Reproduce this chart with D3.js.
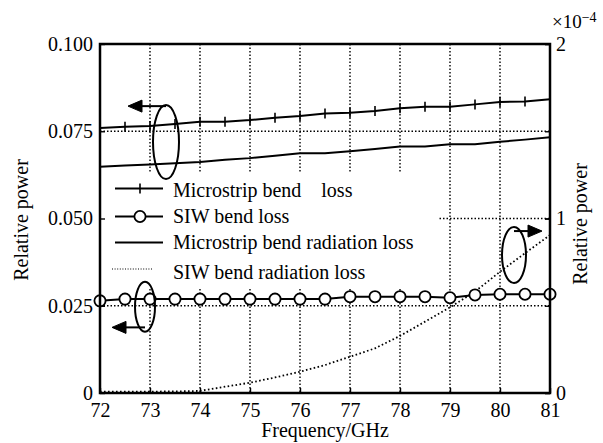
<!DOCTYPE html>
<html>
<head>
<meta charset="utf-8">
<script src="https://cdn.jsdelivr.net/npm/d3@7"></script>
<style>
  body { margin: 0; background: #fff; }
  text { font-family: "Liberation Serif", "Times New Roman", serif; fill: #000; }
</style>
</head>
<body>
<script>
// frequency points (GHz)
var freq = [72, 72.5, 73, 73.5, 74, 74.5, 75, 75.5, 76, 76.5, 77, 77.5, 78, 78.5, 79, 79.5, 80, 80.5, 81];

// left axis series
var microstripLoss = [0.0759, 0.0763, 0.0765, 0.0771, 0.0777, 0.0777, 0.0782, 0.0789, 0.0794, 0.0801,
                      0.0803, 0.0808, 0.0816, 0.0820, 0.0820, 0.0827, 0.0834, 0.0835, 0.0842];
var siwLoss = [0.0264, 0.0269, 0.0269, 0.0269, 0.0269, 0.0269, 0.0269, 0.0269, 0.0269, 0.0269,
               0.0276, 0.0276, 0.0276, 0.0276, 0.0273, 0.0281, 0.0283, 0.0283, 0.0283];
var microstripRad = [0.0648, 0.0652, 0.0655, 0.0658, 0.0662, 0.0668, 0.0673, 0.0680, 0.0687, 0.0687,
                     0.0693, 0.0699, 0.0706, 0.0706, 0.0713, 0.0713, 0.0720, 0.0726, 0.0733];
// right axis series (x 1e-4)
var siwRad = [0.008, 0.008, 0.008, 0.009, 0.012, 0.036, 0.059, 0.089, 0.122, 0.160,
              0.208, 0.256, 0.327, 0.409, 0.491, 0.581, 0.695, 0.801, 0.905];

var xTicks = [72, 73, 74, 75, 76, 77, 78, 79, 80, 81];
var yLeftTicks = [0, 0.025, 0.05, 0.075, 0.1];
var yRightTicks = [0, 1, 2];

var legendLabels = ["Microstrip bend    loss", "SIW bend loss", "Microstrip bend radiation loss", "SIW bend radiation loss"];

// annotation ellipses: [freq, value, axis, arrow value, arrow tip freq]
var ovalLeftTop = [73.32, 0.0719, "L", 0.0822, 72.56];
var ovalLeftBottom = [72.9, 0.0247, "L", 0.0188, 72.24];
var ovalRight = [80.28, 0.791, "R", 0.928, 80.84];

var dim = { width: 603, height: 443, left: 100, right: 550, top: 44, bottom: 393 };

var x = d3.scaleLinear().domain([72, 81]).range([dim.left, dim.right]);
var yL = d3.scaleLinear().domain([0, 0.1]).range([dim.bottom, dim.top]);
var yR = d3.scaleLinear().domain([0, 2]).range([dim.bottom, dim.top]);

var svg = d3.select("body").append("svg")
    .attr("width", dim.width)
    .attr("height", dim.height);

// grid
var grid = svg.append("g").attr("class", "grid")
    .attr("stroke", "#000").attr("stroke-width", 1.4).attr("stroke-dasharray", "1.5,2");
grid.selectAll("line.v").data(xTicks.slice(1, -1)).enter().append("line")
    .attr("x1", function(d) { return x(d); }).attr("x2", function(d) { return x(d); })
    .attr("y1", dim.top).attr("y2", dim.bottom);
grid.selectAll("line.h").data(yLeftTicks.slice(1, -1)).enter().append("line")
    .attr("x1", dim.left).attr("x2", dim.right)
    .attr("y1", function(d) { return yL(d); }).attr("y2", function(d) { return yL(d); });

// legend background hides the grid
var legend = svg.append("g").attr("class", "legend");
legend.append("rect")
    .attr("x", dim.left + 1).attr("y", 173)
    .attr("width", 337).attr("height", 115)
    .attr("fill", "#fff");

// lines
var lineL = function(vals) {
    return d3.line().x(function(d, i) { return x(freq[i]); }).y(function(d) { return yL(d); })(vals);
};
var lineR = function(vals) {
    return d3.line().x(function(d, i) { return x(freq[i]); }).y(function(d) { return yR(d); })(vals);
};

var plot = svg.append("g").attr("class", "plot").attr("fill", "none").attr("stroke", "#000");

plot.append("path").attr("d", lineL(microstripLoss)).attr("stroke-width", 2);
plot.append("path").attr("d", lineL(microstripRad)).attr("stroke-width", 2);
plot.append("path").attr("d", lineR(siwRad)).attr("stroke-width", 1.8).attr("stroke-dasharray", "1.6,2.4");
plot.append("path").attr("d", lineL(siwLoss)).attr("stroke-width", 2);

plot.selectAll("line.plus").data(microstripLoss).enter().append("line")
    .attr("x1", function(d, i) { return x(freq[i]); }).attr("x2", function(d, i) { return x(freq[i]); })
    .attr("y1", function(d) { return yL(d) - 5; }).attr("y2", function(d) { return yL(d) + 5; })
    .attr("stroke-width", 1.6);

plot.selectAll("circle").data(siwLoss).enter().append("circle")
    .attr("cx", function(d, i) { return x(freq[i]); })
    .attr("cy", function(d) { return yL(d); })
    .attr("r", 5.6)
    .attr("fill", "#fff").attr("stroke-width", 1.8);

// legend items
var rows = [188.5, 216.5, 242.5, 269];
var textRows = [190, 216, 242, 272];
legendLabels.forEach(function(label, i) {
    var g = legend.append("g").attr("stroke", "#000").attr("fill", "none");
    if (i < 3) {
        g.append("line").attr("x1", 115).attr("x2", 163).attr("y1", rows[i]).attr("y2", rows[i]).attr("stroke-width", 2);
    } else {
        g.append("line").attr("x1", 112).attr("x2", 153).attr("y1", rows[i]).attr("y2", rows[i])
            .attr("stroke-width", 1.2).attr("stroke-dasharray", "1,1.6");
    }
    if (i === 0) {
        g.append("line").attr("x1", 140).attr("x2", 140).attr("y1", rows[i] - 5).attr("y2", rows[i] + 5).attr("stroke-width", 1.6);
    }
    if (i === 1) {
        g.append("circle").attr("cx", 140).attr("cy", rows[i]).attr("r", 5.6).attr("fill", "#fff").attr("stroke-width", 1.8);
    }
    legend.append("text")
        .attr("x", 173).attr("y", textRows[i] + 6.5)
        .style("font-size", "20px").style("white-space", "pre")
        .text(label);
});

// axes
var fmtL = function(d) { return d === 0 ? "0" : d3.format(".3f")(d); };

var axisL = d3.axisLeft(yL).tickValues(yLeftTicks).tickFormat(fmtL).tickSizeInner(-5).tickSizeOuter(0).tickPadding(7);
var axisLMirror = d3.axisRight(yL).tickValues(yLeftTicks).tickFormat("").tickSizeInner(-5).tickSizeOuter(0);
var axisR = d3.axisRight(yR).tickValues(yRightTicks).tickFormat(d3.format("d")).tickSizeInner(-5).tickSizeOuter(0).tickPadding(6);
var axisB = d3.axisBottom(x).tickValues(xTicks).tickFormat(d3.format("d")).tickSizeInner(-5).tickSizeOuter(0).tickPadding(10);

function styleAxis(g) {
    g.select(".domain").remove();
    g.selectAll(".tick line").attr("stroke", "#000").attr("stroke-width", 1.4);
    g.selectAll(".tick text").style("font-size", "20px").style("font-family", "'Liberation Serif', serif").attr("fill", "#000");
}

svg.append("g").attr("transform", "translate(" + dim.left + ",0)").call(axisL).call(styleAxis);
svg.append("g").attr("transform", "translate(" + dim.right + ",0)").call(axisLMirror).call(styleAxis);
svg.append("g").attr("transform", "translate(" + dim.right + ",0)").call(axisR).call(styleAxis);
svg.append("g").attr("transform", "translate(0," + dim.bottom + ")").call(axisB).call(styleAxis);

// frame
svg.append("rect")
    .attr("x", dim.left).attr("y", dim.top)
    .attr("width", dim.right - dim.left).attr("height", dim.bottom - dim.top)
    .attr("fill", "none").attr("stroke", "#000").attr("stroke-width", 2.5);

// exponent
var expo = svg.append("text").attr("x", 552).attr("y", 28).style("font-size", "19px");
expo.append("tspan").text("\u00d710");
expo.append("tspan").attr("dy", -6).style("font-size", "14px").text("\u22124");

// axis titles
svg.append("text")
    .attr("x", (dim.left + dim.right) / 2).attr("y", 437)
    .attr("text-anchor", "middle").style("font-size", "20px")
    .text("Frequency/GHz");
svg.append("text")
    .attr("transform", "translate(28,220) rotate(-90)")
    .attr("text-anchor", "middle").style("font-size", "20px")
    .text("Relative power");
svg.append("text")
    .attr("transform", "translate(587,224) rotate(-90)")
    .attr("text-anchor", "middle").style("font-size", "20px")
    .text("Relative power");

// annotations
function oval(spec, rx, ry) {
    var ys = spec[2] === "L" ? yL : yR;
    var cx = x(spec[0]), cy = ys(spec[1]), ay = ys(spec[3]), tip = x(spec[4]);
    var dir = tip < cx ? -1 : 1;
    var g = svg.append("g").attr("stroke", "#000").attr("fill", "none").attr("stroke-width", 2);
    g.append("ellipse").attr("cx", cx).attr("cy", cy).attr("rx", rx).attr("ry", ry);
    g.append("line").attr("x1", cx).attr("x2", tip - dir * 10).attr("y1", ay).attr("y2", ay);
    g.append("path")
        .attr("d", d3.line()([[tip, ay], [tip - dir * 14, ay - 6], [tip - dir * 14, ay + 6]]) + "Z")
        .attr("fill", "#000").attr("stroke-width", 1);
}
oval(ovalLeftTop, 13, 37);
oval(ovalLeftBottom, 10, 25);
oval(ovalRight, 12, 28);
</script>
</body>
</html>
